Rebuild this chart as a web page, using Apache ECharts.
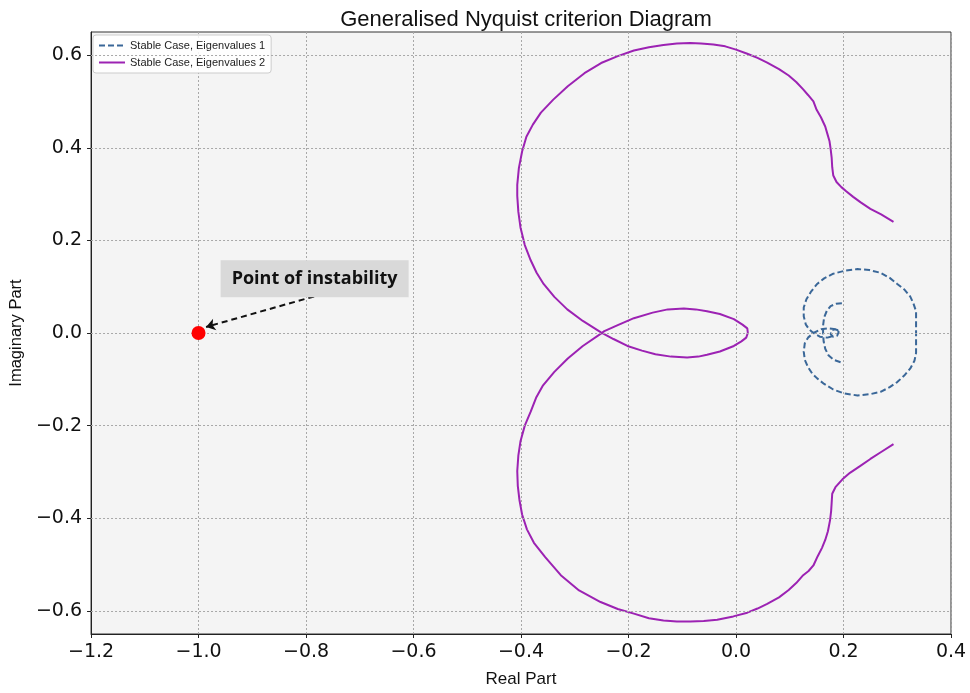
<!DOCTYPE html>
<html>
<head>
<meta charset="utf-8">
<script src="https://cdn.jsdelivr.net/npm/echarts@6/dist/echarts.min.js"></script>
<style>
  html, body { margin: 0; padding: 0; background: #ffffff; }
  #chart { width: 970px; height: 693px; }
</style>
</head>
<body>
<div id="chart"></div>
<script>
// Tick positions on both axes
const xTicks = [-1.2, -1.0, -0.8, -0.6, -0.4, -0.2, 0.0, 0.2, 0.4];
const yTicks = [-0.6, -0.4, -0.2, 0.0, 0.2, 0.4, 0.6];

// Eigenvalue locus 1 (dashed): outer loop passing through the crossing near 0.14
const eig1Loop = [
  [0.190,0.006],[0.184,0.008],[0.178,0.006],[0.176,-0.002],[0.180,-0.008],[0.188,-0.006],
  [0.191,0.002],[0.188,0.008],[0.172,0.010],[0.158,0.008],[0.144,0.000],[0.134,-0.010],
  [0.128,-0.022],[0.126,-0.040],[0.128,-0.058],[0.134,-0.074],[0.142,-0.088],[0.151,-0.098],
  [0.164,-0.110],[0.181,-0.122],[0.200,-0.130],[0.226,-0.135],[0.250,-0.132],[0.269,-0.127],
  [0.286,-0.117],[0.300,-0.106],[0.313,-0.092],[0.324,-0.077],[0.332,-0.060],[0.335,-0.043],
  [0.335,-0.020],[0.335,0.000],[0.335,0.025],[0.335,0.047],[0.330,0.064],[0.324,0.079],
  [0.313,0.094],[0.300,0.106],[0.286,0.119],[0.269,0.130],[0.248,0.136],[0.226,0.138],
  [0.204,0.135],[0.181,0.128],[0.164,0.118],[0.151,0.106],[0.140,0.090],[0.131,0.073],
  [0.126,0.055],[0.126,0.036],[0.130,0.018],[0.136,0.008],[0.144,0.000],[0.156,-0.008],
  [0.170,-0.010],[0.182,-0.006]
];
// Eigenvalue locus 1 (dashed): inner arc
const eig1Arc = [
  [0.197,0.064],[0.186,0.063],[0.176,0.058],[0.169,0.048],[0.164,0.034],[0.162,0.016],
  [0.162,0.000],[0.163,-0.018],[0.166,-0.034],[0.172,-0.048],[0.182,-0.058],[0.197,-0.064]
];

// Eigenvalue locus 2 (solid): upper lobe, small loop around the origin, lower lobe
const eig2 = [
  [0.293,0.240],[0.270,0.256],[0.250,0.268],[0.232,0.282],[0.218,0.294],[0.205,0.306],
  [0.196,0.315],[0.187,0.326],[0.181,0.340],[0.179,0.358],[0.178,0.378],[0.176,0.398],
  [0.174,0.414],[0.170,0.430],[0.166,0.446],[0.158,0.466],[0.150,0.482],[0.144,0.500],
  [0.134,0.514],[0.125,0.526],[0.112,0.542],[0.098,0.556],[0.080,0.570],[0.058,0.584],
  [0.040,0.594],[0.021,0.603],[0.000,0.612],[-0.020,0.619],[-0.042,0.623],[-0.065,0.625],
  [-0.085,0.626],[-0.110,0.625],[-0.135,0.622],[-0.162,0.617],[-0.190,0.610],[-0.220,0.598],
  [-0.251,0.583],[-0.282,0.561],[-0.313,0.533],[-0.340,0.504],[-0.363,0.476],[-0.378,0.450],
  [-0.390,0.424],[-0.398,0.392],[-0.404,0.356],[-0.407,0.320],[-0.407,0.296],[-0.405,0.262],
  [-0.401,0.228],[-0.393,0.190],[-0.382,0.157],[-0.371,0.130],[-0.358,0.106],[-0.338,0.078],
  [-0.314,0.051],[-0.285,0.026],[-0.252,0.002],
  [-0.228,-0.013],[-0.202,-0.028],[-0.175,-0.038],[-0.150,-0.046],[-0.121,-0.051],[-0.091,-0.053],
  [-0.070,-0.051],[-0.054,-0.047],[-0.030,-0.040],[-0.004,-0.028],[0.010,-0.018],[0.019,-0.010],
  [0.020,-0.013],[0.021,-0.006],[0.022,0.000],[0.021,0.010],[0.020,0.013],
  [0.012,0.018],[-0.004,0.030],[-0.030,0.041],[-0.054,0.047],[-0.075,0.051],[-0.097,0.053],
  [-0.127,0.051],[-0.155,0.044],[-0.190,0.032],[-0.220,0.017],[-0.245,0.004],
  [-0.252,-0.002],[-0.285,-0.028],[-0.313,-0.055],[-0.338,-0.084],[-0.359,-0.113],[-0.372,-0.140],
  [-0.382,-0.170],[-0.393,-0.200],[-0.401,-0.234],[-0.405,-0.265],[-0.407,-0.298],[-0.406,-0.330],
  [-0.403,-0.360],[-0.398,-0.392],[-0.389,-0.424],[-0.376,-0.453],[-0.355,-0.484],[-0.326,-0.523],
  [-0.292,-0.556],[-0.252,-0.581],[-0.220,-0.596],[-0.190,-0.606],[-0.162,-0.616],[-0.135,-0.621],
  [-0.110,-0.623],[-0.085,-0.623],[-0.060,-0.622],[-0.035,-0.619],[-0.005,-0.612],[0.021,-0.604],
  [0.040,-0.595],[0.058,-0.585],[0.080,-0.571],[0.098,-0.555],[0.112,-0.540],[0.125,-0.523],
  [0.135,-0.514],[0.144,-0.502],[0.152,-0.482],[0.160,-0.464],[0.166,-0.447],[0.171,-0.428],
  [0.175,-0.404],[0.177,-0.384],[0.178,-0.366],[0.179,-0.347],[0.185,-0.333],[0.198,-0.316],
  [0.212,-0.302],[0.230,-0.288],[0.250,-0.272],[0.270,-0.257],[0.293,-0.240]
];

// Critical point and its annotation
const criticalPoint = [[-1.0, 0.0]];
const noteText = 'Point of instability';
const noteAt = [-0.784, 0.117];
const arrowFrom = [-0.785, 0.079];
const arrowTo = [-0.986, 0.013];

const name1 = 'Stable Case, Eigenvalues 1';
const name2 = 'Stable Case, Eigenvalues 2';

const fmt = v => (v < -1e-9 ? '\u2212' : '') + Math.abs(v).toFixed(1);
const tickFont = { fontFamily: 'DejaVu Sans', fontSize: 19, color: '#111' };
const blue = '#3a6798';
const purple = '#9c22b3';

const chart = echarts.init(document.getElementById('chart'));
chart.setOption({
  animation: false,
  backgroundColor: '#ffffff',
  title: {
    text: 'Generalised Nyquist criterion Diagram',
    left: 521, top: 4, textAlign: 'center',
    textStyle: { fontFamily: 'Liberation Sans', fontSize: 22, fontWeight: 'normal', color: '#111' }
  },
  legend: {
    left: 93, top: 35, orient: 'vertical',
    itemWidth: 26, itemHeight: 10, itemGap: 6,
    padding: [5, 6, 5, 5],
    backgroundColor: 'rgba(255,255,255,0.85)',
    borderColor: '#cccccc', borderWidth: 1, borderRadius: 3,
    itemStyle: { opacity: 0 },
    textStyle: { fontFamily: 'Liberation Sans', fontSize: 11, color: '#222' },
    data: [name1, name2]
  },
  grid: {
    left: 90, right: 19, top: 32, bottom: 51,
    show: true, backgroundColor: '#f4f4f4', borderColor: '#333', borderWidth: 1
  },
  xAxis: {
    type: 'value', min: -1.2, max: 0.4, interval: 0.2,
    name: 'Real Part', nameLocation: 'middle', nameGap: 37,
    nameTextStyle: { fontFamily: 'Liberation Sans', fontSize: 17, color: '#111' },
    axisLine: { show: true, onZero: false, lineStyle: { color: '#222' } },
    axisTick: { show: true, inside: false, length: 4, lineStyle: { color: '#222' } },
    axisLabel: Object.assign({ formatter: fmt, margin: 9 }, tickFont),
    splitLine: { show: true, lineStyle: { color: '#a8a8a8', type: [2, 2], width: 1 } }
  },
  yAxis: {
    type: 'value', min: -0.65, max: 0.65,
    name: 'Imaginary Part', nameLocation: 'middle', nameGap: 64, nameRotate: 90,
    nameTextStyle: { fontFamily: 'Liberation Sans', fontSize: 16.5, color: '#111' },
    axisLine: { show: true, onZero: false, lineStyle: { color: '#222' } },
    axisTick: { show: true, inside: false, length: 4, customValues: yTicks, lineStyle: { color: '#222' } },
    axisLabel: Object.assign({ formatter: fmt, margin: 9, customValues: yTicks }, tickFont),
    splitLine: { show: false }
  },
  series: [
    {
      // horizontal grid lines at the y tick values
      type: 'line', data: [], silent: true,
      markLine: {
        silent: true, symbol: 'none', label: { show: false },
        lineStyle: { color: '#a8a8a8', type: [2, 2], width: 1 },
        data: yTicks.map(v => ({ yAxis: v }))
      }
    },
    {
      name: name1, type: 'line', data: eig1Loop, showSymbol: false, symbol: 'none',
      smooth: false, z: 3,
      lineStyle: { color: blue, width: 2, type: [6, 3] }, itemStyle: { color: blue }
    },
    {
      name: name1, type: 'line', data: eig1Arc, showSymbol: false, symbol: 'none',
      smooth: false, z: 3,
      lineStyle: { color: blue, width: 2, type: [6, 3] }, itemStyle: { color: blue }
    },
    {
      name: name2, type: 'line', data: eig2, showSymbol: false, symbol: 'none',
      smooth: false, z: 3,
      lineStyle: { color: purple, width: 2 }, itemStyle: { color: purple }
    },
    {
      type: 'scatter', data: criticalPoint, symbolSize: 14, z: 5,
      itemStyle: { color: '#ff0000', opacity: 1 },
      markLine: {
        silent: true, symbol: ['none', 'arrow'], symbolSize: 9,
        label: { show: false },
        lineStyle: { color: '#111', width: 2, type: [6, 4] },
        data: [[{ coord: arrowFrom }, { coord: arrowTo }]]
      },
      markPoint: {
        silent: true,
        symbol: 'rect', symbolSize: [188, 37],
        itemStyle: { color: '#d9d9d9' },
        label: {
          show: true, position: 'inside', formatter: noteText,
          fontFamily: 'Open Sans', fontWeight: 'bold', fontSize: 18, color: '#111'
        },
        data: [{ coord: noteAt }]
      }
    }
  ]
});
</script>
</body>
</html>
